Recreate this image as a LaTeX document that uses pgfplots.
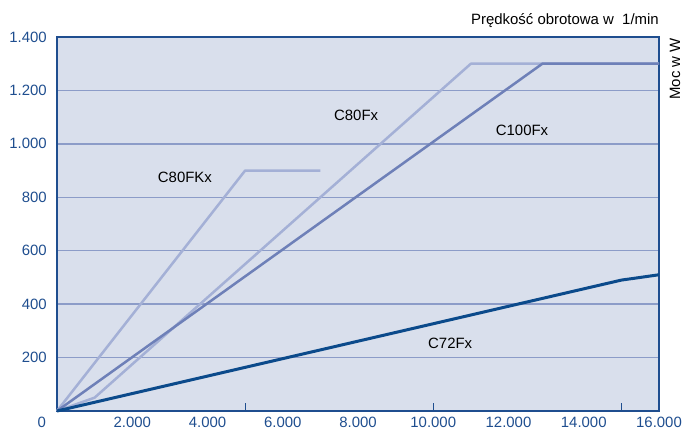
\documentclass[border=0pt]{standalone}
\usepackage{pgfplots}
\pgfplotsset{compat=1.18}
\usepackage{fontspec}
\setmainfont{Liberation Sans}
\definecolor{bgblue}{HTML}{D9DFEC}
\definecolor{frameblue}{HTML}{1F4E8F}
\definecolor{gridblue}{HTML}{8C9CC8}
\definecolor{lightline}{HTML}{A4B0D6}
\definecolor{midline}{HTML}{6E80B8}
\definecolor{darkline}{HTML}{0B4A8B}
\newcommand{\fs}{\fontsize{15}{18}\selectfont}
\begin{document}
\begin{tikzpicture}
\begin{axis}[
  scale only axis, width=602bp, height=374bp,
  xmin=0, xmax=16000, ymin=0, ymax=1400,
  scaled ticks=false,
  axis background/.style={fill=bgblue},
  axis line style={draw=frameblue, line width=1.5bp},
  tick pos=left, tick align=inside,
  major tick length=0pt,
  xtick={0,2000,4000,6000,8000,10000,12000,14000,16000},
  xticklabels={\makebox[0pt][r]{0\hspace*{11bp}},2.000,4.000,6.000,8.000,10.000,12.000,14.000,16.000},
  extra x ticks={5000,10000,15000},
  extra x tick labels={},
  extra x tick style={major tick length=8bp, tick style={draw=frameblue, line width=1.2bp}},
  ytick={200,400,600,800,1000,1200,1400},
  yticklabels={200,400,600,800,1.000,1.200,1.400},
  ymajorgrids,
  grid style={draw=gridblue, line width=1.5bp},
  ticklabel style={font=\fs, text=frameblue, inner sep=0pt},
  xticklabel style={yshift=-6bp},
  yticklabel style={xshift=-10bp},
  clip=false,
]
\addplot[lightline, line width=2.5bp, line join=round] coordinates {(0,0) (5000,900) (7000,900)};
\addplot[lightline, line width=2.5bp, line join=round] coordinates {(0,0) (1000,50) (11000,1300) (16000,1300)};
\addplot[midline, line width=2.5bp, line join=round] coordinates {(0,0) (12900,1300) (16000,1300)};
\addplot[darkline, line width=3bp, line join=round] coordinates {(0,0) (15000,490) (16000,510)};
\node[font=\fs] at (axis cs:3400,876) {C80FKx};
\node[font=\fs] at (axis cs:7950,1108) {C80Fx};
\node[font=\fs] at (axis cs:12360,1052) {C100Fx};
\node[font=\fs] at (axis cs:10450,255) {C72Fx};
\node[font=\fs, anchor=base east, inner sep=0pt] at ([yshift=12bp]rel axis cs:1,1) {Prędkość obrotowa w\ \ 1/min};
\node[font=\fs, anchor=base east, inner sep=0pt, rotate=90] at ([xshift=21bp,yshift=-1bp]rel axis cs:1,1) {Moc w W};
\end{axis}
\path ([shift={(-57bp,-21bp)}]current axis.south west) rectangle ([shift={(24bp,37bp)}]current axis.north east);
\end{tikzpicture}
\end{document}
